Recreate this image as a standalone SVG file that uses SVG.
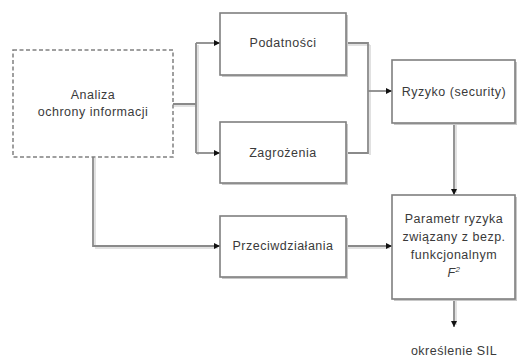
<svg xmlns="http://www.w3.org/2000/svg" width="517" height="358" viewBox="0 0 517 358">
<style>
.box{fill:#fff;stroke:#7f7f7f;stroke-width:1.6}
.shadow{fill:none;stroke:#c8c8c8;stroke-width:2}
.dash{fill:#fff;stroke:#808080;stroke-width:1.5;stroke-dasharray:4,2.5}
.ln{fill:none;stroke:#8a8a8a;stroke-width:1.8}
.lsh{fill:none;stroke:#d8d8d8;stroke-width:1.5}
text{font-family:"Liberation Sans",Arial,sans-serif;font-size:12.5px;letter-spacing:0.5px;fill:#3a3a3a;text-anchor:middle}
</style>
<defs>
<marker id="ah" viewBox="0 0 6 6" refX="6" refY="3" markerWidth="6" markerHeight="6" markerUnits="userSpaceOnUse" orient="auto">
<path d="M0,0 L6,3 L0,6 Z" fill="#111"/>
</marker>
</defs>
<rect width="517" height="358" fill="#fff"/>
<g id="connectors">
<path class="lsh" d="M174,106 H197 M198,45 V155"/>
<path class="ln" d="M173,104 H196 M196,43 V153"/>
<path class="ln" d="M196,43 H220" marker-end="url(#ah)"/>
<path class="ln" d="M196,153 H220" marker-end="url(#ah)"/>
<path class="lsh" d="M95,158 V246 M95,248 H218 M347,45 H370 M370,45 V155 M347,248 H390 M456,124 V193 M456,300 V325"/>
<path class="ln" d="M93,157 V246 H220" marker-end="url(#ah)"/>
<path class="ln" d="M346,43 H368 V153 H346"/>
<path class="ln" d="M368,91 H392" marker-end="url(#ah)"/>
<path class="ln" d="M346,246 H392" marker-end="url(#ah)"/>
<path class="ln" d="M454,123 V195" marker-end="url(#ah)"/>
<path class="ln" d="M454,299 V327" marker-end="url(#ah)"/>
</g>
<g id="analiza">
<rect class="dash" x="13" y="50" width="160" height="107"/>
<text x="93" y="99">Analiza</text>
<text x="93" y="116">ochrony informacji</text>
</g>
<g id="podatnosci">
<path class="shadow" d="M222,76 H347 V15"/>
<rect class="box" x="220" y="13" width="126" height="62"/>
<text x="283" y="47">Podatności</text>
</g>
<g id="zagrozenia">
<path class="shadow" d="M222,184 H347 V124"/>
<rect class="box" x="220" y="122" width="126" height="61"/>
<text x="283" y="157">Zagrożenia</text>
</g>
<g id="przeciwdzialania">
<path class="shadow" d="M222,278 H347 V218"/>
<rect class="box" x="220" y="216" width="126" height="61"/>
<text x="283" y="250">Przeciwdziałania</text>
</g>
<g id="ryzyko">
<path class="shadow" d="M394,124 H516 V62"/>
<rect class="box" x="392" y="60" width="123" height="63"/>
<text x="454" y="96">Ryzyko (security)</text>
</g>
<g id="parametr">
<path class="shadow" d="M394,300 H516 V197"/>
<rect class="box" x="392" y="195" width="123" height="104"/>
<text x="454" y="223">Parametr ryzyka</text>
<text x="454" y="241">związany z bezp.</text>
<text x="454" y="259">funkcjonalnym</text>
<text x="454" y="277" font-style="italic">F<tspan font-size="8" dy="-5">2</tspan></text>
</g>
<g id="sil">
<text x="454" y="355">określenie SIL</text>
</g>
</svg>
